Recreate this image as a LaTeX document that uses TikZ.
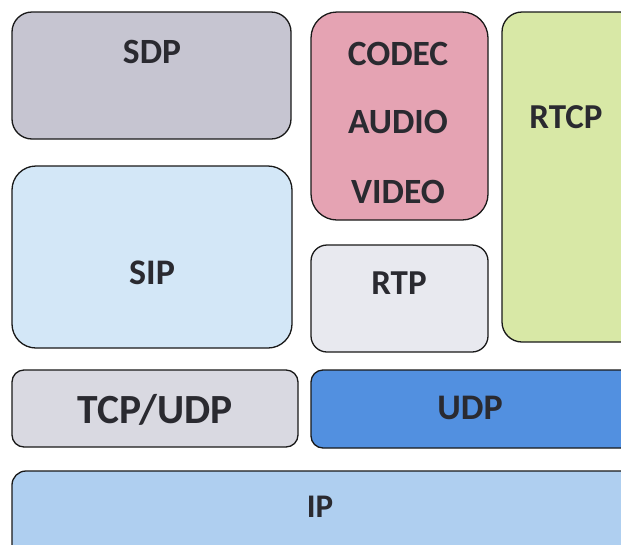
\documentclass[tikz,border=0pt]{standalone}
\usepackage{fontspec}
\setmainfont{Carlito}
\definecolor{sdpc}{HTML}{C6C5D1}
\definecolor{codecc}{HTML}{E5A3B3}
\definecolor{rtcpc}{HTML}{D8E8A6}
\definecolor{sipc}{HTML}{D3E7F7}
\definecolor{rtpc}{HTML}{E8E9EF}
\definecolor{tcpc}{HTML}{D9D9E1}
\definecolor{udpc}{HTML}{5290E0}
\definecolor{ipc}{HTML}{AFCFF0}
\definecolor{txtc}{HTML}{2A2A30}
\begin{document}
\begin{tikzpicture}[x=1pt,y=-1pt,
  layer/.style={draw=black!90, line width=1.3pt},
  lbl/.style={text=txtc, font=\bfseries, inner sep=0pt}]
\useasboundingbox (0,0) rectangle (621,544);
\clip (0,0) rectangle (621,544);
\fill[white] (0,0) rectangle (621,544);
% boxes
\draw[layer, fill=sdpc, rounded corners=20pt] (12,12) rectangle (291,139);
\draw[layer, fill=codecc, rounded corners=26pt] (311,12) rectangle (488,220);
\draw[layer, fill=rtcpc, rounded corners=20pt] (502,12) rectangle (640,342);
\draw[layer, fill=sipc, rounded corners=24pt] (12,166) rectangle (292,348);
\draw[layer, fill=rtpc, rounded corners=16pt] (311,245) rectangle (488,352);
\draw[layer, fill=tcpc, rounded corners=12pt] (12,370) rectangle (298,447);
\draw[layer, fill=udpc, rounded corners=12pt] (311,370) rectangle (640,448);
\draw[layer, fill=ipc, rounded corners=14pt] (12,471) rectangle (640,570);
% labels
\node[lbl, font=\bfseries\fontsize{35.5}{38}\selectfont] (sdp) at (152,52) {SDP};
\node[lbl, font=\bfseries\fontsize{35.5}{38}\selectfont] (codec) at (398,54) {CODEC};
\node[lbl, font=\bfseries\fontsize{35.5}{38}\selectfont] (audio) at (398,122) {AUDIO};
\node[lbl, font=\bfseries\fontsize{35.5}{38}\selectfont] (video) at (398,192) {VIDEO};
\node[lbl, font=\bfseries\fontsize{35}{38}\selectfont] (rtcp) at (566,117) {RTCP};
\node[lbl, font=\bfseries\fontsize{36}{39}\selectfont] (sip) at (152,273) {SIP};
\node[lbl, font=\bfseries\fontsize{35}{38}\selectfont] (rtp) at (399,283) {RTP};
\node[lbl, font=\bfseries\fontsize{41.5}{44}\selectfont] (tcpudp) at (155,410) {TCP/UDP};
\node[lbl, font=\bfseries\fontsize{36}{39}\selectfont] (udp) at (470,408) {UDP};
\node[lbl, font=\bfseries\fontsize{33}{36}\selectfont] (ip) at (320,507) {IP};
\end{tikzpicture}
\end{document}
